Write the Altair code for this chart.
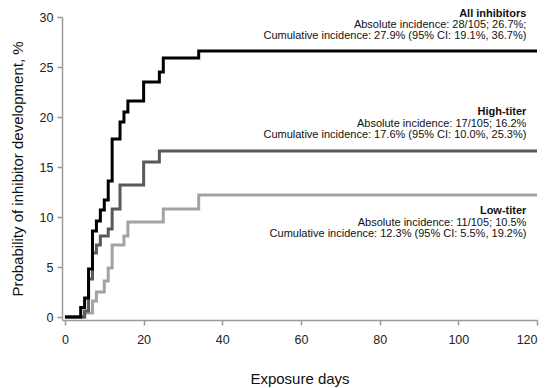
import altair as alt
import pandas as pd

# Exposure days at which each curve steps up, and the cumulative probability (%) after the step
all_days = [0, 4, 5, 6, 7, 8, 9, 10, 11, 12, 14, 15, 16, 20, 24, 25, 34, 120]
all_vals = [0, 0.95, 1.9, 4.8, 8.6, 9.6, 10.7, 11.7, 13.6, 17.8, 19.5, 20.5, 21.6, 23.5, 24.5, 25.9, 26.6, 26.6]

high_days = [0, 5, 6, 7, 8, 9, 11, 12, 14, 20, 24, 120]
high_vals = [0, 0.6, 3.8, 6.4, 7.2, 8.1, 8.8, 10.8, 13.2, 15.5, 16.6, 16.6]

low_days = [0, 5, 7, 8, 10, 11, 12, 15, 16, 25, 34, 120]
low_vals = [0, 0.4, 1.6, 2.5, 3.6, 4.9, 7.2, 8.1, 9.5, 10.8, 12.2, 12.2]

# Annotation text (right-aligned near the right edge)
ann_text = [
    "All inhibitors",
    "Absolute incidence: 28/105; 26.7%;",
    "Cumulative incidence: 27.9% (95% CI: 19.1%, 36.7%)",
    "High-titer",
    "Absolute incidence: 17/105; 16.2%",
    "Cumulative incidence: 17.6% (95% CI: 10.0%, 25.3%)",
    "Low-titer",
    "Absolute incidence: 11/105; 10.5%",
    "Cumulative incidence: 12.3% (95% CI: 5.5%, 19.2%)",
]
ann_y = [30.3, 29.2, 28.1, 20.5, 19.35, 18.2, 10.6, 9.45, 8.3]
ann_x = [117.3] * 9
ann_bold = [True, False, False, True, False, False, True, False, False]

FONT = "Liberation Sans"

x_scale = alt.Scale(domain=[-0.75, 120], nice=False, zero=False)
y_scale = alt.Scale(domain=[-0.3, 30], nice=False, zero=False)

x_axis = alt.Axis(values=[0, 20, 40, 60, 80, 100, 120], title="Exposure days",
                  grid=False, labelPadding=8, titlePadding=26)
y_axis = alt.Axis(values=[0, 5, 10, 15, 20, 25, 30], title="Probability of inhibitor development, %",
                  grid=False, labelPadding=4, titlePadding=14)


def curve(days, vals, color):
    df = pd.DataFrame({"day": days, "p": vals})
    return alt.Chart(df).mark_line(
        interpolate="step-after", color=color, strokeWidth=3, strokeCap="butt", strokeJoin="miter"
    ).encode(
        x=alt.X("day:Q", scale=x_scale, axis=x_axis),
        y=alt.Y("p:Q", scale=y_scale, axis=y_axis),
    )


ann_df = pd.DataFrame({"x": ann_x, "y": ann_y, "t": ann_text, "b": ann_bold})

ann_regular = alt.Chart(ann_df).transform_filter("!datum.b").mark_text(
    align="right", baseline="middle", fontSize=11, font=FONT, color="#111"
).encode(x=alt.X("x:Q", scale=x_scale), y=alt.Y("y:Q", scale=y_scale), text="t:N")

ann_bold_layer = alt.Chart(ann_df).transform_filter("datum.b").mark_text(
    align="right", baseline="middle", fontSize=11, font=FONT, fontWeight="bold", color="#111"
).encode(x=alt.X("x:Q", scale=x_scale), y=alt.Y("y:Q", scale=y_scale), text="t:N")

chart = alt.layer(
    curve(low_days, low_vals, "#a3a3a3"),
    curve(high_days, high_vals, "#595959"),
    curve(all_days, all_vals, "#000000"),
    ann_regular,
    ann_bold_layer,
).properties(
    width=475,
    height=303,
    padding={"left": 54, "top": 9, "right": 6, "bottom": 68},
    autosize=alt.AutoSizeParams(type="none"),
).configure_view(
    stroke=None
).configure_axis(
    domainColor="#9a9a9a",
    domainWidth=1.5,
    tickColor="#9a9a9a",
    tickWidth=1.5,
    tickSize=5,
    labelFont=FONT,
    labelFontSize=12.5,
    labelColor="#222",
    titleFont=FONT,
    titleFontSize=15,
    titleFontWeight="normal",
    titleColor="#111",
)

chart.save("out.html", embed_options={"renderer": "svg", "actions": False})
